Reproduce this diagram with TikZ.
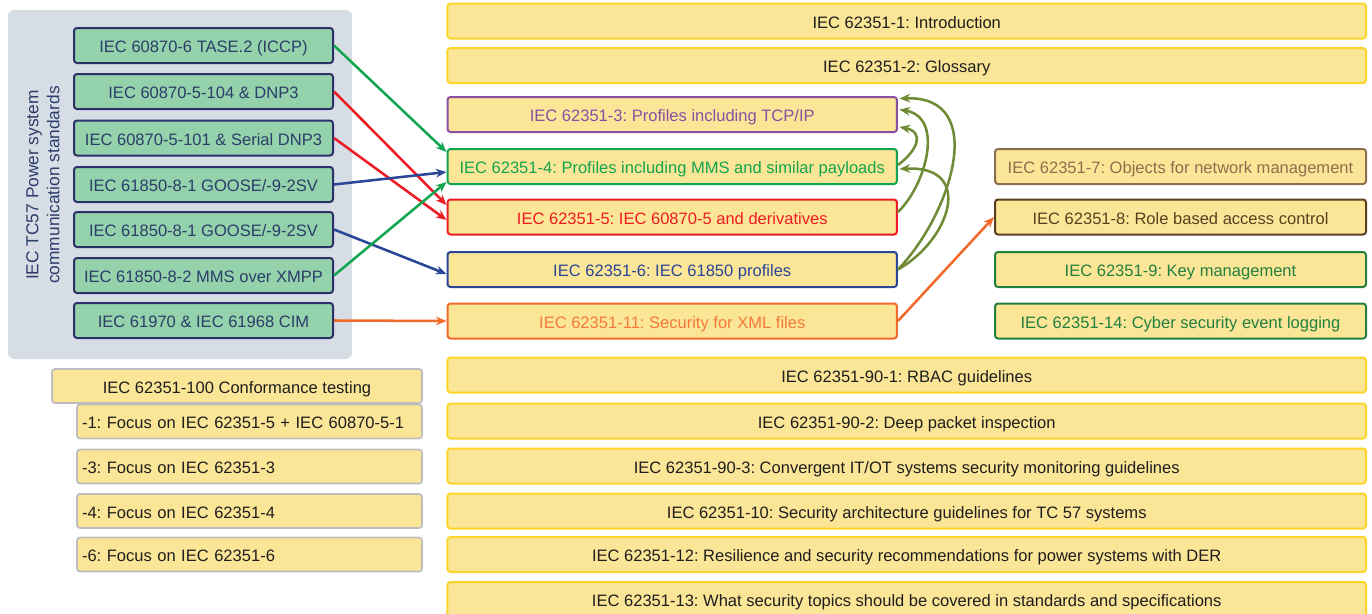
\documentclass[tikz,border=0pt]{standalone}
\usepackage{fontspec}
\setmainfont{Liberation Sans}
\usetikzlibrary{arrows.meta,calc}
\frenchspacing
\definecolor{yfill}{HTML}{FBE597}
\definecolor{ybord}{HTML}{FDD52A}
\definecolor{gfill}{HTML}{93D2AA}
\definecolor{navy}{HTML}{2C2F6A}
\definecolor{navytext}{HTML}{2D3D6B}
\definecolor{bgrey}{HTML}{D6DDE5}
\definecolor{cgrey}{HTML}{BDBDBD}
\definecolor{txtblack}{HTML}{1E1E1E}
\definecolor{cpurple}{HTML}{8B4FA2}
\definecolor{cgreen}{HTML}{12A54F}
\definecolor{cred}{HTML}{ED1C24}
\definecolor{cblue}{HTML}{2A4697}
\definecolor{corange}{HTML}{F26A2A}
\definecolor{corangetxt}{HTML}{F47A3A}
\definecolor{cbrownl}{HTML}{8E6E4E}
\definecolor{cbrownd}{HTML}{5A4020}
\definecolor{cdkgreen}{HTML}{22803F}
\definecolor{colive}{HTML}{6F8B36}
\newcommand{\fsz}{\fontsize{12.4}{14}\selectfont}
\tikzset{
  ybox/.style={draw=ybord, fill=yfill, rounded corners=2.25pt, line width=1.5pt,
    minimum height=26.25pt, inner sep=0pt, font=\fsz, text=txtblack,
    text height=11.5pt, text depth=1pt},
  mid/.style={ybox, minimum width=337.1pt},
  full/.style={ybox, minimum width=688.9pt},
  rcol/.style={ybox, minimum width=278.25pt},
  gbox/.style={draw=navy, fill=gfill, rounded corners=2.25pt, line width=1.5pt,
    minimum height=26.25pt, minimum width=194.25pt, inner sep=0pt, font=\fsz, text=navytext,
    text height=11.5pt, text depth=1pt},
  cbox/.style={draw=cgrey, fill=yfill, rounded corners=2.25pt, line width=1.3pt,
    minimum height=25.5pt, inner sep=0pt, font=\fsz, text=txtblack,
    text height=11.5pt, text depth=1pt},
  csub/.style={cbox, minimum width=258.75pt, text width=251.25pt, inner xsep=3.75pt, align=left},
  arr/.style={line width=1.9pt, -{Stealth[length=8pt,width=6.5pt]}},
}
\begin{document}
\begin{tikzpicture}[x=0.75pt,y=-0.75pt]
\useasboundingbox (0,0) rectangle (1372,614);
% background panel
\fill[bgrey, rounded corners=4.5pt] (8,10) rectangle (352,359);
\node[rotate=90, align=center, text=navytext, font=\fontsize{13}{15.75}\selectfont] (title) at (43,185)
  {IEC TC57 Power system\\communication standards};
% left green boxes
\node[gbox] (g1) at (203.5,45.5) {IEC 60870-6 TASE.2 (ICCP)};
\node[gbox] (g2) at (203.5,91.5) {IEC 60870-5-104 \& DNP3};
\node[gbox] (g3) at (203.5,138) {IEC 60870-5-101 \& Serial DNP3};
\node[gbox] (g4) at (203.5,184.5) {IEC 61850-8-1 GOOSE/-9-2SV};
\node[gbox] (g5) at (203.5,229.5) {IEC 61850-8-1 GOOSE/-9-2SV};
\node[gbox] (g6) at (203.5,275.5) {IEC 61850-8-2 MMS over XMPP};
\node[gbox] (g7) at (203.5,320.5) {IEC 61970 \& IEC 61968 CIM};
% top full-width
\node[full] (t1) at (906.75,21) {IEC 62351-1: Introduction};
\node[full] (t2) at (906.75,65.5) {IEC 62351-2: Glossary};
% middle column
\node[mid, draw=cpurple, text=cpurple] (m3) at (672.25,114.5) {IEC 62351-3: Profiles including TCP/IP};
\node[mid, draw=cgreen, text=cgreen] (m4) at (672.25,166.5) {IEC 62351-4: Profiles including MMS and similar payloads};
\node[mid, draw=cred, text=cred] (m5) at (672.25,217) {IEC 62351-5: IEC 60870-5 and derivatives};
\node[mid, draw=cblue, text=cblue] (m6) at (672.25,269.5) {IEC 62351-6: IEC 61850 profiles};
\node[mid, draw=corange, text=corangetxt] (m11) at (672.25,321) {IEC 62351-11: Security for XML files};
% right column
\node[rcol, draw=cbrownl, text=cbrownl] (r7) at (1180.5,166.5) {IEC 62351-7: Objects for network management};
\node[rcol, draw=cbrownd, text=cbrownd] (r8) at (1180.5,217) {IEC 62351-8: Role based access control};
\node[rcol, draw=cdkgreen, text=cdkgreen] (r9) at (1180.5,269.5) {IEC 62351-9: Key management};
\node[rcol, draw=cdkgreen, text=cdkgreen] (r14) at (1180.5,321) {IEC 62351-14: Cyber security event logging};
% bottom full-width
\node[full] (b1) at (906.75,375) {IEC 62351-90-1: RBAC guidelines};
\node[full] (b2) at (906.75,421) {IEC 62351-90-2: Deep packet inspection};
\node[full] (b3) at (906.75,466) {IEC 62351-90-3: Convergent IT/OT systems security monitoring guidelines};
\node[full] (b4) at (906.75,511) {IEC 62351-10: Security architecture guidelines for TC 57 systems};
\node[full] (b5) at (906.75,554.5) {IEC 62351-12: Resilience and security recommendations for power systems with DER};
\node[full] (b6) at (906.75,599.5) {IEC 62351-13: What security topics should be covered in standards and specifications};
% conformance testing
\node[cbox, minimum width=277.5pt] (c0) at (237,386) {IEC 62351-100 Conformance testing};
\node[csub] (c1) at (249.5,421.5) {-1: Focus on IEC 62351-5 + IEC 60870-5-1};
\node[csub] (c3) at (249.5,466.5) {-3: Focus on IEC 62351-3};
\node[csub] (c4) at (249.5,511) {-4: Focus on IEC 62351-4};
\node[csub] (c6) at (249.5,554.5) {-6: Focus on IEC 62351-6};
% connectors from left boxes
\draw[arr, cgreen] (g1.east) -- ($(m4.west)+(0,-14.5)$);
\draw[arr, cred] (g2.east) -- ($(m5.west)+(0,-12)$);
\draw[arr, cred] (g3.east) -- ($(m5.west)+(0,3)$);
\draw[arr, cblue] (g4.east) -- ($(m4.west)+(0,5.5)$);
\draw[arr, cblue] (g5.east) -- ($(m6.west)+(0,4.5)$);
\draw[arr, cgreen] (g6.east) -- ($(m4.west)+(0,15.5)$);
\draw[arr, corange] (g7.east) -- (m11.west);
% curved olive connectors
\draw[arr, colive] ($(m4.east)+(0,-1.5)$) .. controls +(20,-15) and +(25,5) .. ($(m3.east)+(1.5,12.5)$);
\draw[arr, colive] ($(m5.east)+(0,-5)$) .. controls +(28,-27) and +(45,8) .. ($(m3.east)+(1.5,-5)$);
\draw[arr, colive] (m6.east) .. controls +(53,-55) and +(90,-3) .. ($(m3.east)+(1.5,-16)$);
\draw[arr, colive] (m6.east) .. controls +(53,-30) and +(75,-4) .. ($(m4.east)+(1.5,2.5)$);
% orange to RBAC
\draw[arr, corange] (m11.east) -- (r8.west);
\end{tikzpicture}
\end{document}
